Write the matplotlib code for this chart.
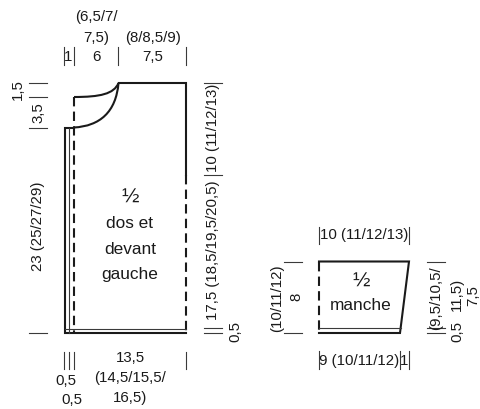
import matplotlib
matplotlib.use("Agg")
import matplotlib.pyplot as plt
from matplotlib.path import Path
from matplotlib.patches import PathPatch

INK = "#1a1a1a"
GREY = "#3a3a3a"
FONT = ["Liberation Sans", "DejaVu Sans"]

# all outlines in image pixels (y goes down), it is a schematic with no real axes
body_x = [74, 65, 65, 186]
body_y = [127.5, 127.5, 333, 333]
top_x = [118.5, 186, 186]
top_y = [83, 83, 175]
sleeve_x = [319, 409, 400, 319]
sleeve_y = [261.5, 261.5, 333, 333]

# x, y, text, rotation
labels = [
    (96, 17, "(6,5/7/", 0), (96, 38, "7,5)", 0), (96, 57, "6", 0),
    (68.5, 57, "1", 0), (153, 38, "(8/8,5/9)", 0), (153, 57, "7,5", 0),
    (18, 90, "1,5", 90), (38, 113, "3,5", 90), (38, 226, "23 (25/27/29)", 90),
    (213, 128, "10 (11/12/13)", 90), (213, 250, "17,5 (18,5/19,5/20,5)", 90),
    (235, 331, "0,5", 90),
    (130, 358, "13,5", 0), (130, 378, "(14,5/15,5/", 0), (130, 398, "16,5)", 0),
    (66, 381, "0,5", 0), (72, 400, "0,5", 0),
    (364, 235, "10 (11/12/13)", 0), (359, 361, "9 (10/11/12)", 0), (404.5, 361, "1", 0),
    (277, 298, "(10/11/12)", 90), (296, 297, "8", 90),
    (436, 298, "(9,5/10,5/", 90), (457, 294, "11,5)", 90), (457, 332, "0,5", 90), (473, 296, "7,5", 90),
]

# names inside the pieces, a bit bigger than the dimensions
names = [
    (130, 224, "dos et"), (130, 250, "devant"), (130, 275, "gauche"),
    (361, 306, "manche"),
]
halves = [(130, 197), (361, 281)]

# dimension ticks
v_ticks = [
    (64, 47, 65), (73.5, 47, 65), (118, 47, 65), (186, 47, 65),
    (64, 352, 369), (69, 352, 369), (74, 352, 369), (186, 352, 369),
    (319, 227, 244), (409, 227, 244), (319, 351, 369), (400, 351, 369), (409, 351, 369),
]
h_ticks = [
    (29, 47, 83), (29, 47, 97), (29, 47, 128), (29, 47, 333),
    (204, 222, 83), (204, 222, 175), (204, 222, 328), (204, 222, 333),
    (284, 302, 261.5), (284, 302, 333),
    (427, 445, 261.5), (427, 445, 328), (427, 445, 333),
]

fig = plt.figure(figsize=(4.8, 4.09), dpi=100)
ax = fig.add_axes([0, 0, 1, 1])
ax.set_xlim(0, 480)
ax.set_ylim(409, 0)
ax.axis("off")

# body
ax.plot(body_x, body_y, color=INK, lw=1.5, solid_joinstyle="miter")
ax.plot(top_x, top_y, color=INK, lw=1.5, solid_joinstyle="miter")
ax.plot([186, 186], [175, 333], color=INK, lw=1.5, dashes=(4.5, 2.5))
ax.plot([74, 74], [97, 333], color=INK, lw=1.5, dashes=(4.5, 2.5))
ax.plot([68.5, 68.5], [128, 333], color=GREY, lw=0.8)
ax.plot([65, 186], [328.5, 328.5], color=GREY, lw=0.8)

# neck curves
front = Path([(74, 97), (100, 97), (114, 94), (118.5, 83)], [Path.MOVETO, Path.CURVE4, Path.CURVE4, Path.CURVE4])
back = Path([(74, 127.5), (100, 126), (116, 112), (118.5, 83)], [Path.MOVETO, Path.CURVE4, Path.CURVE4, Path.CURVE4])
ax.add_patch(PathPatch(front, fill=False, ec=INK, lw=1.5))
ax.add_patch(PathPatch(back, fill=False, ec=INK, lw=1.5))

# sleeve
ax.plot(sleeve_x, sleeve_y, color=INK, lw=1.5, solid_joinstyle="miter")
ax.plot([319, 319], [261.5, 333], color=INK, lw=1.5, dashes=(4.5, 2.5))
ax.plot([319, 401], [328, 328], color=GREY, lw=0.8)

for x, y0, y1 in v_ticks:
    ax.plot([x, x], [y0, y1], color=GREY, lw=0.8)
for x0, x1, y in h_ticks:
    ax.plot([x0, x1], [y, y], color=GREY, lw=0.8)

for x, y, s, rot in labels:
    ax.text(x, y, s, rotation=rot, ha="center", va="center", family=FONT, fontsize=10.8, color=INK)
for x, y, s in names:
    ax.text(x, y, s, ha="center", va="center", family=FONT, fontsize=12.4, color=INK)
for x, y in halves:
    ax.text(x, y, "½", ha="center", va="center", family=FONT, fontsize=15, color=INK)

fig.savefig("out.png", dpi=100)
